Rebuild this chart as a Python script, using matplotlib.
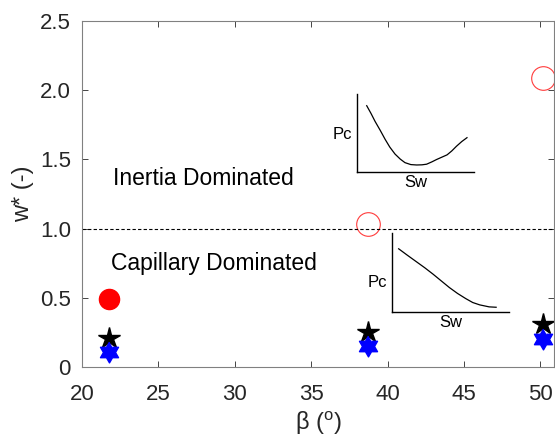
import numpy as np
import matplotlib
matplotlib.use('Agg')
import matplotlib.pyplot as plt

plt.rcParams['font.family'] = ['Liberation Sans', 'DejaVu Sans']
plt.rcParams['mathtext.fontset'] = 'custom'
plt.rcParams['mathtext.rm'] = 'Liberation Sans'

# Данные
beta = [21.8, 38.7, 50.2]
w_red = [0.49, 1.03, 2.09]        # красные круги (первый закрашен)
w_black = [0.21, 0.25, 0.31]      # чёрные звёзды
w_blue = [0.11, 0.15, 0.20]       # синие гексаграммы

# Кривые Pc(Sw) для вставок
sw1 = [0.083, 0.12, 0.154, 0.20, 0.24, 0.28, 0.325, 0.37, 0.41, 0.46, 0.51,
       0.555, 0.595, 0.64, 0.68, 0.725, 0.77, 0.81, 0.85, 0.895, 0.94]
pc1 = [0.85, 0.75, 0.65, 0.53, 0.42, 0.32, 0.23, 0.165, 0.12, 0.095, 0.09,
       0.092, 0.10, 0.13, 0.16, 0.19, 0.22, 0.27, 0.33, 0.39, 0.44]
sw2 = [0.057, 0.13, 0.205, 0.28, 0.35, 0.42, 0.49, 0.56, 0.63, 0.69, 0.75, 0.83, 0.89]
pc2 = [0.80, 0.72, 0.64, 0.56, 0.48, 0.395, 0.31, 0.235, 0.17, 0.12, 0.09, 0.065, 0.06]

grey = '#262626'
fig = plt.figure(figsize=(5.55, 4.43), dpi=100)
ax = fig.add_axes([82/555, 1-367/443, (554-82)/555, (367-21)/443])

# гексаграмма (звезда Давида) как маркер
ang = np.pi/2 + np.arange(12) * np.pi/6
rad = np.where(np.arange(12) % 2 == 0, 1.0, 1/np.sqrt(3))
hexagram = list(zip(rad*np.cos(ang), rad*np.sin(ang)))

ax.plot(beta[0], w_red[0], 'o', color='red', markersize=14.5)
ax.plot(beta[1:], w_red[1:], 'o', mfc='none', mec='#ff3b3b', markersize=17, mew=0.8)
ax.plot(beta, w_black, '*', color='black', markersize=16)
ax.plot(beta, w_blue, marker=hexagram, ls='none', color='blue', markersize=15)
ax.axhline(1.0, color='black', ls='--', lw=0.8, dashes=(3, 2))

ax.text(22.0, 1.36, 'Inertia Dominated', fontsize=16.5, va='center', color='black')
ax.text(21.9, 0.75, 'Capillary Dominated', fontsize=16.5, va='center', color='black')

ax.set_xlim(20, 50.9)
ax.set_ylim(0, 2.5)
ax.set_xticks([20, 25, 30, 35, 40, 45, 50])
ax.set_yticks([0, 0.5, 1.0, 1.5, 2.0, 2.5])
ax.set_yticklabels(['0', '0.5', '1.0', '1.5', '2.0', '2.5'])
ax.tick_params(direction='in', top=True, right=True, labelsize=16, colors=grey,
               length=4, width=0.6)
ax.tick_params(axis='x', pad=12)
ax.tick_params(axis='y', pad=8)
for s in ax.spines.values():
    s.set_color('#808080')
    s.set_linewidth(0.8)
ax.set_xlabel(r'β ($^{\rm o}$)', fontsize=17, color=grey, labelpad=3)
ax.set_ylabel('w* (-)', fontsize=17, color=grey, labelpad=4)

# Вставки
def inset(rect, sw, pc, ly):
    a = fig.add_axes(rect)
    a.plot(sw, pc, color='black', lw=0.9, solid_joinstyle='round')
    a.set_xlim(0, 1)
    a.set_ylim(0, 1)
    a.set_xticks([])
    a.set_yticks([])
    a.spines['top'].set_visible(False)
    a.spines['right'].set_visible(False)
    for s in ('left', 'bottom'):
        a.spines[s].set_color('black')
        a.spines[s].set_linewidth(1.0)
    a.patch.set_alpha(0)
    a.set_xlabel('Sw', fontsize=12, labelpad=2)
    a.set_ylabel('Pc', fontsize=12, rotation=0, ha='right', va='center')
    a.yaxis.set_label_coords(-0.04, ly)
    return a

inset([357/555, 1-172/443, 117/555, 78/443], sw1, pc1, 0.48)
inset([392/555, 1-312/443, 117/555, 79/443], sw2, pc2, 0.37)

fig.savefig('out.png', dpi=100)
